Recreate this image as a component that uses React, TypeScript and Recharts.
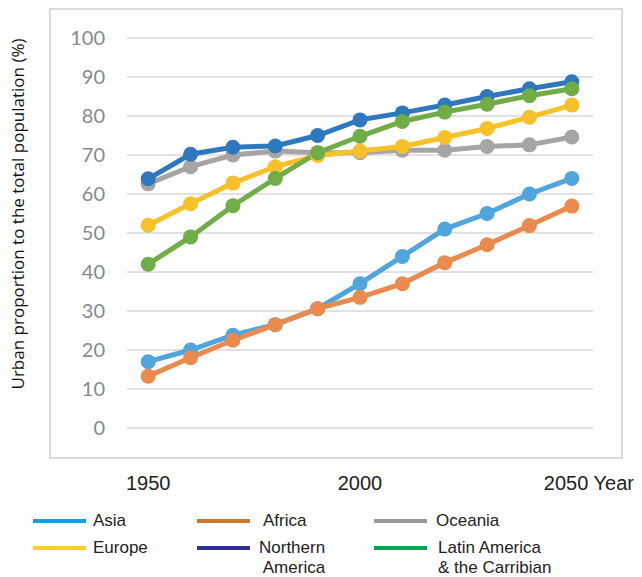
import React from "react"
import { LineChart, Line, XAxis, YAxis, CartesianGrid } from "recharts"

const years = [1950, 1960, 1970, 1980, 1990, 2000, 2010, 2020, 2030, 2040, 2050]

const asia = [17, 20, 23.8, 26.5, 30.6, 37, 44, 51, 55, 60, 64]
const africa = [13.3, 18, 22.5, 26.5, 30.6, 33.5, 37, 42.4, 47, 51.9, 56.9]
const oceania = [62.6, 67, 70, 71, 70.6, 70.6, 71.2, 71.2, 72.2, 72.6, 74.6]
const europe = [52, 57.5, 62.8, 67, 69.9, 71, 72.2, 74.5, 76.8, 79.7, 82.8]
const northernAmerica = [63.9, 70.2, 72, 72.3, 75, 79, 80.8, 82.8, 85, 87, 88.8]
const latinAmerica = [42, 49, 57, 64, 70.6, 74.8, 78.6, 81, 83, 85.2, 87]

const yTicks = [0, 10, 20, 30, 40, 50, 60, 70, 80, 90, 100]
const xTicks = [1950, 2000, 2050]

// draw order follows the legend order
const series = [
    { key: "asia", name: "Asia", values: asia, color: "#4ea6dc", legendColor: "#0aa3e2" },
    { key: "africa", name: "Africa", values: africa, color: "#ea8a4c", legendColor: "#c87a30" },
    { key: "oceania", name: "Oceania", values: oceania, color: "#a5a5a5", legendColor: "#999999" },
    { key: "europe", name: "Europe", values: europe, color: "#f8c12a", legendColor: "#ffd02a" },
    { key: "northernAmerica", name: "Northern\n America", values: northernAmerica, color: "#2e78c0", legendColor: "#2e3192" },
    { key: "latinAmerica", name: "Latin America\n& the Carribian", values: latinAmerica, color: "#70ad47", legendColor: "#00a650" },
]

const data = years.map((year, i) => {
    const row: Record<string, number> = { year }
    series.forEach(s => { row[s.key] = s.values[i] })
    return row
})

const legendSlots = [
    { left: 33, top: 521, textLeft: 60 },
    { left: 197, top: 521, textLeft: 66 },
    { left: 374, top: 521, textLeft: 62 },
    { left: 33, top: 548, textLeft: 60 },
    { left: 197, top: 548, textLeft: 62 },
    { left: 374, top: 548, textLeft: 64 },
]

function YearTick({ x, y, payload }: any) {
    const isLast = payload.value === 2050
    return (
        <text
            x={isLast ? x - 28 : x}
            y={y}
            dy={60}
            textAnchor={isLast ? "start" : "middle"}
            fontFamily="'Liberation Sans', Arial, sans-serif"
            fontSize={20}
            fill="#222"
        >
            {isLast ? "2050 Year" : payload.value}
        </text>
    )
}

export default function App() {
    return (
        <div style={{ position: "absolute", left: 0, top: 0, width: 642, height: 577, background: "#fff", overflow: "hidden" }}>
            {/* chart frame */}
            <div style={{ position: "absolute", left: 49, top: 8, width: 574, height: 451, border: "2px solid #d9dbdd", boxSizing: "border-box" }} />

            <div style={{ position: "absolute", left: 0, top: 0 }}>
                <LineChart width={642} height={577} data={data} margin={{ top: 38, right: 49, bottom: 119, left: 67 }}>
                    <CartesianGrid vertical={false} stroke="#d9d9d9" strokeWidth={1.5} />
                    <XAxis
                        dataKey="year"
                        type="number"
                        domain={[1945, 2055]}
                        ticks={xTicks}
                        axisLine={false}
                        tickLine={false}
                        tickSize={0}
                        height={30}
                        tick={<YearTick />}
                    />
                    <YAxis
                        domain={[0, 100]}
                        ticks={yTicks}
                        width={60}
                        axisLine={false}
                        tickLine={false}
                        tickSize={0}
                        tickMargin={22}
                        tick={{ fill: "#858a8f", fontSize: 20, fontFamily: "Lato, sans-serif" }}
                    />
                    {series.map(s => (
                        <Line
                            key={s.key}
                            dataKey={s.key}
                            stroke={s.color}
                            strokeWidth={5}
                            dot={{ r: 7.5, fill: s.color, stroke: s.color, strokeWidth: 0 }}
                            activeDot={false}
                            isAnimationActive={false}
                        />
                    ))}
                </LineChart>
            </div>

            {/* y axis title */}
            <div
                style={{
                    position: "absolute",
                    left: 17,
                    top: 214,
                    transform: "translate(-50%, -50%) rotate(-90deg)",
                    whiteSpace: "nowrap",
                    fontFamily: "'Open Sans', sans-serif",
                    fontSize: 17,
                    color: "#111",
                }}
            >
                Urban proportion to the total population (%)
            </div>

            {/* legend */}
            {series.map((s, i) => {
                const slot = legendSlots[i]
                return (
                    <div key={s.key} style={{ position: "absolute", left: slot.left, top: slot.top - 10 }}>
                        <div style={{ position: "absolute", left: 0, top: 8, width: 53, height: 4, background: s.legendColor }} />
                        <div
                            style={{
                                position: "absolute",
                                left: slot.textLeft,
                                top: 0,
                                whiteSpace: "pre",
                                fontFamily: "'Liberation Sans', Arial, sans-serif",
                                fontSize: 17,
                                lineHeight: "20px",
                                color: "#222",
                            }}
                        >
                            {s.name}
                        </div>
                    </div>
                )
            })}
        </div>
    )
}
